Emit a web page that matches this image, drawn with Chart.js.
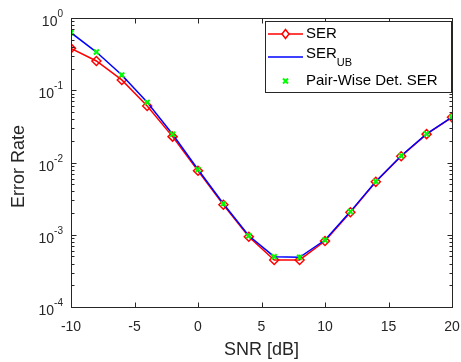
<!DOCTYPE html>
<html>
<head>
<meta charset="utf-8">
<script src="https://cdn.jsdelivr.net/npm/chart.js@4"></script>
<style>
  html, body { margin: 0; padding: 0; background: #fff; }
  canvas { display: block; }
</style>
</head>
<body>
<canvas id="errChart" width="461" height="362"></canvas>
<script>
// data
const snrDb = [-10, -8, -6, -4, -2, 0, 2, 4, 6, 8, 10, 12, 14, 16, 18, 20];
const serSim = [0.38, 0.254, 0.139, 0.0605, 0.0228, 0.0077, 0.0026, 0.00094, 0.000448, 0.000448, 0.00082, 0.00205, 0.0054, 0.0122, 0.0247, 0.0422];
const serUpper = [0.626, 0.338, 0.163, 0.068, 0.0246, 0.0080, 0.00268, 0.00097, 0.000497, 0.000488, 0.000846, 0.00209, 0.00545, 0.0124, 0.0249, 0.0425];
const pairWise = [0.626, 0.338, 0.163, 0.068, 0.0246, 0.0080, 0.00268, 0.00097, 0.000497, 0.000488, 0.000846, 0.00209, 0.00545, 0.0124, 0.0249, 0.0425];
const xTicks = [-10, -5, 0, 5, 10, 15, 20];
const yExponents = [0, -1, -2, -3, -4];

const FONT = '"Liberation Sans", Arial, Helvetica, sans-serif';
const INK = '#262626';

function pts(ys) {
    return snrDb.map((x, i) => ({ x: x, y: ys[i] }));
}

// MATLAB-ish axes box, inward ticks, labels and legend
const matlabAxes = {
    id: 'matlabAxes',
    afterDraw(chart) {
        const ctx = chart.ctx;
        const a = chart.chartArea;
        const xs = chart.scales.x;
        const ys = chart.scales.y;
        const L = Math.round(a.left) + 0.5, R = Math.round(a.right) + 0.5;
        const T = Math.round(a.top) + 0.5, B = Math.round(a.bottom) + 0.5;

        ctx.save();
        ctx.strokeStyle = INK;
        ctx.lineWidth = 1;
        ctx.strokeRect(L, T, R - L, B - T);

        ctx.beginPath();
        // x ticks top and bottom
        xTicks.forEach(v => {
            const px = Math.round(xs.getPixelForValue(v)) + 0.5;
            ctx.moveTo(px, B); ctx.lineTo(px, B - 5);
            ctx.moveTo(px, T); ctx.lineTo(px, T + 5);
        });
        // y major + minor ticks left and right
        for (let e = -4; e <= 0; e++) {
            for (let m = 1; m <= 9; m++) {
                const v = m * Math.pow(10, e);
                if (v > 1) break;
                const py = Math.round(ys.getPixelForValue(v)) + 0.5;
                const len = m === 1 ? 5 : 3;
                ctx.moveTo(L, py); ctx.lineTo(L + len, py);
                ctx.moveTo(R, py); ctx.lineTo(R - len, py);
            }
        }
        ctx.stroke();

        ctx.fillStyle = INK;
        // x tick labels
        ctx.font = '14px ' + FONT;
        ctx.textAlign = 'center';
        ctx.textBaseline = 'middle';
        xTicks.forEach(v => {
            ctx.fillText(String(v), xs.getPixelForValue(v), 327);
        });
        // y tick labels 10^n
        yExponents.forEach(e => {
            const py = ys.getPixelForValue(Math.pow(10, e));
            const sup = e === 0 ? '0' : '-' + (-e);
            ctx.font = '10px ' + FONT;
            const supW = ctx.measureText(sup).width;
            ctx.textAlign = 'left';
            ctx.textBaseline = 'alphabetic';
            ctx.fillText(sup, a.left - 10 - supW + 2, py - 1);
            ctx.font = '14px ' + FONT;
            ctx.textAlign = 'right';
            ctx.fillText('10', a.left - 10 - supW + 2, py + 8);
        });

        // axis titles
        ctx.font = '18px ' + FONT;
        ctx.textAlign = 'center';
        ctx.textBaseline = 'middle';
        ctx.fillText('SNR [dB]', (a.left + a.right) / 2, 350);
        ctx.save();
        ctx.translate(19, (a.top + a.bottom) / 2 + 4);
        ctx.rotate(-Math.PI / 2);
        ctx.fillText('Error Rate', 0, 0);
        ctx.restore();

        // legend box
        const lx = 265.5, ly = 21.5, lw = 186, lh = 71;
        ctx.fillStyle = '#fff';
        ctx.fillRect(lx, ly, lw, lh);
        ctx.strokeStyle = INK;
        ctx.strokeRect(lx, ly, lw, lh);

        const rows = [34, 57, 81];
        const sx0 = 268, sx1 = 303, sxm = (sx0 + sx1) / 2;
        // SER row
        ctx.strokeStyle = '#ff0000';
        ctx.lineWidth = 1.5;
        ctx.beginPath();
        ctx.moveTo(sx0, rows[0]); ctx.lineTo(sx1, rows[0]);
        ctx.stroke();
        ctx.beginPath();
        ctx.moveTo(sxm, rows[0] - 4.5); ctx.lineTo(sxm + 3.5, rows[0]);
        ctx.lineTo(sxm, rows[0] + 4.5); ctx.lineTo(sxm - 3.5, rows[0]);
        ctx.closePath();
        ctx.fillStyle = '#fff';
        ctx.fill();
        ctx.stroke();
        // UB row
        ctx.strokeStyle = '#0000ff';
        ctx.beginPath();
        ctx.moveTo(sx0, rows[1]); ctx.lineTo(sx1, rows[1]);
        ctx.stroke();
        // pair-wise row
        ctx.strokeStyle = '#00ff00';
        ctx.lineWidth = 2;
        ctx.beginPath();
        ctx.moveTo(sxm - 2.5, rows[2] - 2.5); ctx.lineTo(sxm + 2.5, rows[2] + 2.5);
        ctx.moveTo(sxm + 2.5, rows[2] - 2.5); ctx.lineTo(sxm - 2.5, rows[2] + 2.5);
        ctx.stroke();

        ctx.fillStyle = '#000';
        ctx.textAlign = 'left';
        ctx.textBaseline = 'middle';
        ctx.font = '15px ' + FONT;
        ctx.fillText('SER', 306, rows[0]);
        ctx.fillText('SER', 306, rows[1] - 3);
        const w = ctx.measureText('SER').width;
        ctx.font = '11px ' + FONT;
        ctx.fillText('UB', 306 + w, rows[1] + 6);
        ctx.font = '15px ' + FONT;
        ctx.fillText('Pair-Wise Det. SER', 306, rows[2]);
        ctx.restore();
    }
};

new Chart(document.getElementById('errChart'), {
    type: 'line',
    data: {
        datasets: [
            {
                label: 'SER',
                data: pts(serSim),
                borderColor: '#ff0000',
                borderWidth: 1.5,
                pointStyle: 'rectRot',
                pointRadius: 4.5,
                pointBorderWidth: 1.5,
                pointBorderColor: '#ff0000',
                pointBackgroundColor: 'rgba(255,255,255,0)',
                order: 3
            },
            {
                label: 'SER_UB',
                data: pts(serUpper),
                borderColor: '#0000ff',
                borderWidth: 1.5,
                pointRadius: 0,
                order: 2
            },
            {
                label: 'Pair-Wise Det. SER',
                data: pts(pairWise),
                showLine: false,
                pointStyle: 'crossRot',
                pointRadius: 3.5,
                pointBorderWidth: 2,
                pointBorderColor: '#00ff00',
                order: 1
            }
        ]
    },
    options: {
        responsive: false,
        animation: false,
        layout: { padding: { left: 71, right: 9, top: 18, bottom: 55 } },
        plugins: { legend: { display: false }, tooltip: { enabled: false } },
        scales: {
            x: { type: 'linear', min: -10, max: 20, display: false },
            y: { type: 'logarithmic', min: 1e-4, max: 1, display: false }
        }
    },
    plugins: [matlabAxes]
});
</script>
</body>
</html>
